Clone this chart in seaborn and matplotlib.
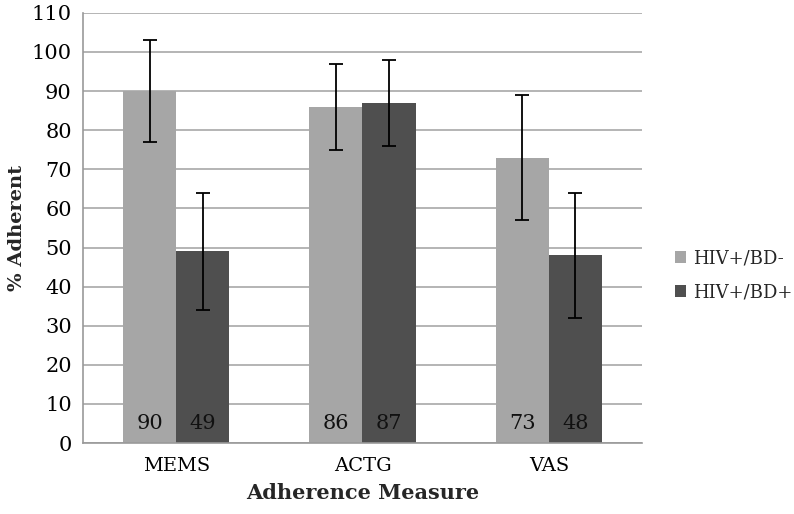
import numpy as np
import matplotlib
matplotlib.use("Agg")
import matplotlib.pyplot as plt
import pandas as pd
import seaborn as sns

measures = ["MEMS", "ACTG", "VAS"]
groups = ["HIV+/BD-", "HIV+/BD+"]
bd_neg = [90, 86, 73]
bd_pos = [49, 87, 48]
err_neg = [13, 11, 16]
err_pos = [15, 11, 16]

colors = ["#a6a6a6", "#4f4f4f"]

sns.set_style("white")
plt.rcParams["font.family"] = ["DejaVu Serif"]

df = pd.DataFrame({
    "measure": measures * 2,
    "group": [groups[0]] * 3 + [groups[1]] * 3,
    "value": bd_neg + bd_pos,
})

fig = plt.figure(figsize=(7.94, 5.14), dpi=100)
ax = fig.add_axes([0.1045, 0.138, 0.704, 0.837])

sns.barplot(data=df, x="measure", y="value", hue="group", order=measures,
            hue_order=groups, palette=colors, width=0.57, errorbar=None,
            saturation=1, linewidth=0, ax=ax, zorder=2)

# error bars and value labels
for cont, errs in zip(ax.containers, [err_neg, err_pos]):
    for bar, e in zip(cont, errs):
        xc = bar.get_x() + bar.get_width() / 2
        h = bar.get_height()
        ax.errorbar(xc, h, yerr=e, color="black", capsize=5, elinewidth=1.3,
                    capthick=1.3, zorder=4)
        ax.text(xc, 5, f"{h:g}", ha="center", va="center", fontsize=15,
                color="#111111", zorder=5)

ax.set_ylim(0, 110)
ax.set_yticks(np.arange(0, 111, 10))
ax.set_xlim(-0.5, 2.5)
ax.yaxis.grid(True, color="#a8a8a8", linewidth=1.2, zorder=0)
ax.set_axisbelow(True)

ax.set_xticks([0, 1, 2])
ax.set_xticks([-0.5, 0.5, 1.5, 2.5], minor=True)
ax.tick_params(axis="x", which="major", length=0, pad=10, labelsize=14,
               labelcolor="black")
ax.tick_params(axis="x", which="minor", length=6, color="#999999", width=1.2)
ax.tick_params(axis="y", length=5, color="#999999", width=1.2, labelsize=15,
               labelcolor="black", pad=3)

for s in ["top", "right"]:
    ax.spines[s].set_visible(False)
for s in ["left", "bottom"]:
    ax.spines[s].set_color("#999999")
    ax.spines[s].set_linewidth(1.2)

ax.set_xlabel("Adherence Measure", fontsize=15, fontweight="bold", labelpad=6)
ax.set_ylabel("% Adherent", fontsize=14, fontweight="bold", labelpad=4)

handles, labels = ax.get_legend_handles_labels()
ax.legend(handles, labels, loc="center left", bbox_to_anchor=(1.03, 0.39),
          frameon=False, fontsize=13, handlelength=0.6, handleheight=0.6,
          labelspacing=0.9, handletextpad=0.4)

fig.savefig("out.png", dpi=100)
